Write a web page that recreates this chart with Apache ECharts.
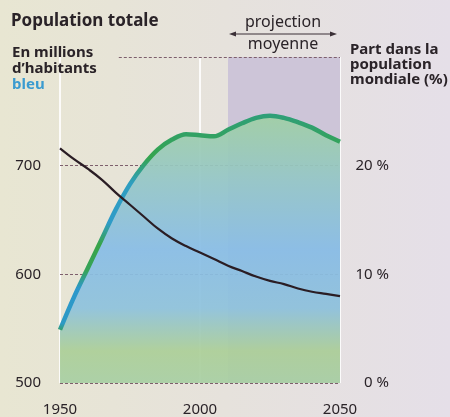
<!DOCTYPE html>
<html><head><meta charset="utf-8">
<script src="https://cdn.jsdelivr.net/npm/echarts@6/dist/echarts.min.js"></script>
<style>html,body{margin:0;padding:0;background:#e7e3dc}#c{width:450px;height:417px}</style>
</head><body><div id="c"></div>
<script>
// ---- data ----
const years = [1950,1955,1960,1965,1970,1975,1980,1985,1990,1995,2000,2005,2010,2015,2020,2025,2030,2035,2040,2045,2050];
const population = [549,579,606,633,660,683,701,715,724,729,728,727,733,739,744,746,744,740,735,728,722]; // millions (left axis)
const worldShare = [21.6,20.6,19.7,18.7,17.5,16.4,15.3,14.2,13.3,12.6,12.0,11.4,10.8,10.3,9.8,9.4,9.1,8.7,8.4,8.2,8.0]; // % (right axis)
const leftTicks = [500,600,700];
const rightTicks = [0,10,20];
const xTicks = [1950,2000,2050];
const projectionStart = 2010, projectionEnd = 2050;
const topRuleStart = 1971;

const FONT = '"Noto Sans", "DejaVu Sans", sans-serif';
const TXT = '#2a2328';

const chart = echarts.init(document.getElementById('c'), null, {renderer:'canvas'});
const popData = years.map((y,i)=>[y,population[i]]);
const shareData = years.map((y,i)=>[y,worldShare[i]]);

const dashed = {color:'#7d5f6c', width:1, type:[3,2]};

const option = {
  animation:false,
  backgroundColor:{type:'linear',x:0,y:0,x2:1,y2:0,colorStops:[{offset:0,color:'#e8e6d2'},{offset:0.5,color:'#e6e2dc'},{offset:1,color:'#e5dfe8'}]},
  grid:{left:60,right:110,top:57,bottom:33},
  xAxis:{type:'value',min:1950,max:2050,interval:50,
    axisLine:{show:false},axisTick:{show:false},
    axisLabel:{margin:19,fontSize:15,color:TXT,fontFamily:FONT,formatter:v=>xTicks.includes(v)?String(v):''},
    splitLine:{show:true,lineStyle:{color:'rgba(255,255,255,0.85)',width:2}}},
  yAxis:[
    {type:'value',min:500,max:800,interval:100,position:'left',
     axisLine:{show:false},axisTick:{show:false},splitLine:{show:false},
     axisLabel:{margin:19,fontSize:15,color:TXT,fontFamily:FONT,padding:[0,0,6,0],
       formatter:v=>leftTicks.includes(v)?String(v):''}},
    {type:'value',min:0,max:30,interval:10,position:'right',
     axisLine:{show:false},axisTick:{show:false},splitLine:{show:false},
     axisLabel:{margin:49,align:'right',fontSize:15,color:TXT,fontFamily:FONT,padding:[0,0,14,0],
       formatter:v=>rightTicks.includes(v)?v+' %':''}}
  ],
  series:[
    {type:'line',name:'decor',data:[],z:1,silent:true,
     markArea:{silent:true,z:1,itemStyle:{color:'#cdc5d8'},
       data:[[{xAxis:projectionStart,yAxis:800},{xAxis:projectionEnd,yAxis:500}]]},
     markLine:{silent:true,z:2,symbol:'none',label:{show:false},lineStyle:dashed,
       data:[
         [{coord:[1950,500]},{coord:[2050,500]}],
         [{coord:[1950,600]},{coord:[2050,600]}],
         [{coord:[1950,700]},{coord:[2050,700]}],
         [{coord:[topRuleStart,800]},{coord:[2050,800]}]
       ]}},
    {type:'line',name:'Population',data:popData,yAxisIndex:0,smooth:0.35,symbol:'none',z:3,
     lineStyle:{width:4.5,color:{type:'linear',x:0,y:0,x2:0,y2:1,colorStops:[
       {offset:0,color:'#2f9f7a'},{offset:0.2,color:'#35a44e'},{offset:0.32,color:'#2f9ec0'},
       {offset:0.5,color:'#2f9bc8'},{offset:0.6,color:'#38a448'},{offset:0.72,color:'#36a35a'},
       {offset:0.8,color:'#2c98cc'},{offset:0.96,color:'#2e9ac4'},{offset:1,color:'#36a050'}]}},
     areaStyle:{opacity:0.93,color:{type:'linear',x:0,y:0,x2:0,y2:1,colorStops:[
       {offset:0,color:'#9fcfa4'},{offset:0.25,color:'#94c6c8'},{offset:0.5,color:'#88bde6'},
       {offset:0.72,color:'#8ec2dc'},{offset:0.88,color:'#accf98'},{offset:1,color:'#a8cfa4'}]}}},
    {type:'line',name:'Part',data:shareData,yAxisIndex:1,smooth:0.4,symbol:'none',z:5,
     lineStyle:{width:2.2,color:'#2a1d24'}}
  ]
};
chart.setOption(option);

const xa = chart.convertToPixel({xAxisIndex:0}, projectionStart) + 1;
const xb = chart.convertToPixel({xAxisIndex:0}, projectionEnd) - 3;
const ay = 34, mid = (xa+xb)/2;
chart.setOption({graphic:[
  {type:'text',left:11,top:13,style:{text:'Population totale',font:'bold 17px '+FONT,fill:TXT}},
  {type:'text',left:12,top:45,style:{text:'En millions\nd\u2019habitants',font:'bold 15px '+FONT,fill:TXT,lineHeight:16}},
  {type:'text',left:12,top:77,style:{text:'bleu',font:'bold 15px '+FONT,fill:'#3b9bd0',lineHeight:16}},
  {type:'text',left:350,top:42,style:{text:'Part dans la\npopulation\nmondiale (%)',font:'bold 15px '+FONT,fill:TXT,lineHeight:15}},
  {type:'text',x:mid,y:22,style:{text:'projection',font:'16px '+FONT,fill:TXT,align:'center',verticalAlign:'middle'}},
  {type:'text',x:mid,y:44,style:{text:'moyenne',font:'16px '+FONT,fill:TXT,align:'center',verticalAlign:'middle'}},
  {type:'line',shape:{x1:xa+4,y1:ay,x2:xb-4,y2:ay},style:{stroke:'#3a2f36',lineWidth:1}},
  {type:'polygon',shape:{points:[[xa,ay],[xa+7,ay-2.5],[xa+7,ay+2.5]]},style:{fill:'#3a2f36'}},
  {type:'polygon',shape:{points:[[xb,ay],[xb-7,ay-2.5],[xb-7,ay+2.5]]},style:{fill:'#3a2f36'}}
]});
</script></body></html>
